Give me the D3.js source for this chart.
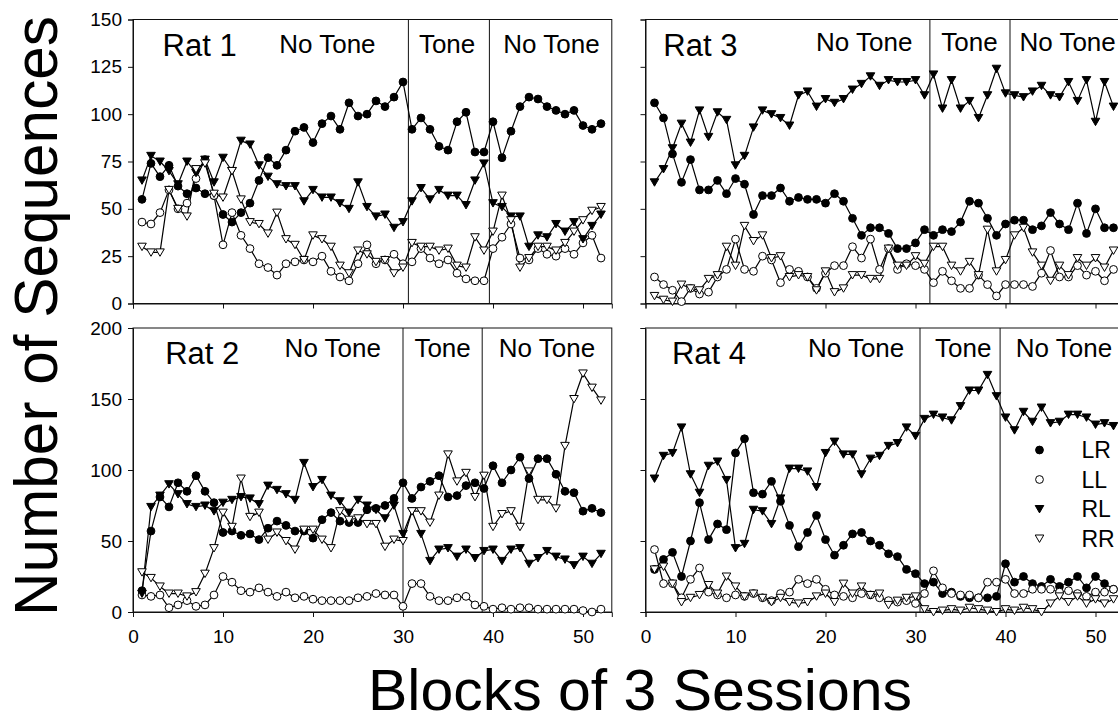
<!DOCTYPE html>
<html>
<head>
<meta charset="utf-8">
<script src="https://cdn.jsdelivr.net/npm/d3@7"></script>
<style>
body { margin: 0; background: #fff; }
svg { display: block; }
text { font-family: "Liberation Sans", Arial, sans-serif; fill: #000; }
</style>
</head>
<body>
<svg id="chart" width="1118" height="721"></svg>
<script>
// blocks of 3 sessions, 1..52
var blocks = d3.range(1, 53);
var seriesNames = ["LR", "LL", "RL", "RR"];
var phaseNames = ["No Tone", "Tone", "No Tone"];
var xTicks = [0, 10, 20, 30, 40, 50];
var yTicksTop = [0, 25, 50, 75, 100, 125, 150];
var yTicksBottom = [0, 50, 100, 150, 200];

// Rat 1
var rat1LR = [55,74,67,73,62,58,61,58,57,47, 43,48,53,65,77,73,81,91,93,85, 95,99,92,106,99,100,107,104,109,117, 92,98,92,83,81,96,101,80,80,96, 77,91,104,109,108,104,102,100,102,94, 92,95];
var rat1LL = [43,42,48,60,50,53,66,76,57,31, 48,36,29,21,19,15,21,22,23,22, 25,17,14,12,21,31,21,23,26,21, 22,29,24,21,23,16,13,12,12,29, 35,42,24,23,29,26,25,29,26,32, 36,24];
var rat1RL = [65,78,75,70,63,75,69,76,64,77, 70,86,84,73,67,63,62,62,54,60, 56,56,53,50,64,51,46,47,40,43, 54,61,55,60,57,57,52,65,74,53, 51,46,46,30,36,35,42,38,43,34, 41,47];
var rat1RR = [30,27,27,60,50,46,71,74,58,56, 70,55,43,42,37,48,34,31,23,36, 34,30,20,16,28,26,22,23,16,19, 32,30,30,28,29,20,19,35,28,38, 57,44,19,24,30,30,28,32,38,44, 49,51];
var rat1Cuts = [30.6, 39.6];

// Rat 2
var rat2LR = [15,57,81,74,91,85,96,85,77,56, 57,54,55,51,59,64,61,57,57,52, 65,70,64,63,63,72,73,75,80,91, 80,88,92,96,81,82,89,91,87,103, 91,100,109,94,108,108,97,85,84,71, 73,70];
var rat2LL = [12,11,12,3,5,8,4,5,12,25, 21,15,14,17,14,11,14,10,11,9, 8,8,8,8,10,11,13,12,12,4, 20,20,11,8,8,10,11,5,4,2, 3,2,3,3,2,2,2,2,2,1, 0,2];
var rat2RL = [13,74,82,90,83,76,74,75,71,77, 79,81,80,76,89,86,83,79,105,88, 93,82,78,70,79,75,72,66,75,55, 71,55,36,44,45,39,44,38,43,44, 36,44,45,34,38,43,39,37,33,39, 34,41];
var rat2RR = [28,24,18,13,13,11,14,27,45,70, 60,94,67,70,51,56,50,44,58,58, 51,45,71,65,66,62,62,46,51,50, 71,71,63,82,111,92,98,81,96,60, 69,71,60,99,79,79,73,117,150,168, 158,149];
var rat2Cuts = [30.0, 38.8];

// Rat 3
var rat3LR = [106,98,79,64,76,60,60,65,58,66, 63,47,57,57,61,54,56,55,55,53, 58,54,45,36,40,40,37,29,29,32, 39,36,39,38,43,54,53,45,36,42, 44,44,39,41,48,42,39,53,37,50, 40,40];
var rat3LL = [14,10,7,1,8,5,6,14,18,34, 18,17,25,23,11,18,17,14,8,16, 20,20,30,24,34,18,29,18,21,20, 18,11,17,12,8,8,15,10,4,10, 10,10,9,16,28,14,14,20,15,17, 12,18];
var rat3RL = [64,71,82,95,85,102,88,101,97,73, 78,93,102,100,98,94,110,112,104,108, 106,108,113,116,120,115,118,117,117,118, 110,121,103,118,103,107,98,110,124,111, 110,109,112,115,110,109,117,107,118,96, 117,104];
var rat3RR = [4,2,1,10,8,7,13,15,30,20, 41,33,36,24,25,14,15,14,7,17, 6,8,15,15,13,13,29,20,20,25, 21,30,30,20,17,22,15,39,17,23, 36,40,27,20,12,20,15,24,20,24, 19,28];
var rat3Cuts = [31.6, 40.5];

// Rat 4
var rat4LR = [30,37,42,25,50,77,51,62,58,112, 122,84,83,92,78,61,46,56,68,51, 40,47,55,56,50,47,41,39,30,27, 20,21,13,14,11,10,10,10,11,34, 21,25,20,18,23,18,21,25,17,25, 20,16];
var rat4LL = [44,20,20,10,23,31,14,12,10,12, 11,13,10,8,13,14,23,20,23,16, 12,11,10,13,12,10,8,7,8,6, 13,29,17,13,12,12,10,21,21,23, 13,13,16,16,16,14,15,13,11,14, 14,16];
var rat4RL = [94,110,112,130,97,84,103,106,93,45, 48,72,71,62,80,101,101,99,88,112, 120,111,111,97,108,110,117,119,130,124, 136,139,137,135,145,156,156,167,152,137, 128,141,134,144,133,134,139,139,137,132, 133,131];
var rat4RR = [30,32,20,7,10,12,19,13,25,18, 11,13,10,7,10,7,6,7,11,13, 7,20,13,18,12,13,5,8,10,11, 2,0,1,2,1,3,2,1,0,2, 1,3,2,0,6,11,7,11,6,9, 6,9];
var rat4Cuts = [30.5, 39.4];

// layout of the four panels
var panels = [
  {name: "Rat 1", series: [rat1LR, rat1LL, rat1RL, rat1RR], cuts: rat1Cuts, left: 133, top: 19.5, bottom: 303.5, yMax: 150, yTicks: yTicksTop,
   yLabels: true, xLabels: false, nameX: 7.4, phaseX: [21.6, 34.9, 46.5], nameDy: 36.5, phaseDy: 33.5},
  {name: "Rat 2", series: [rat2LR, rat2LL, rat2RL, rat2RR], cuts: rat2Cuts, left: 133, top: 328, bottom: 612, yMax: 200, yTicks: yTicksBottom,
   yLabels: true, xLabels: true, nameX: 7.7, phaseX: [22.2, 34.4, 46.0], nameDy: 36, phaseDy: 29},
  {name: "Rat 3", series: [rat3LR, rat3LL, rat3RL, rat3RR], cuts: rat3Cuts, left: 645.5, top: 19.5, bottom: 303.5, yMax: 150, yTicks: yTicksTop,
   yLabels: false, xLabels: false, nameX: 6.1, phaseX: [24.3, 36.0, 46.9], nameDy: 36.5, phaseDy: 31.5},
  {name: "Rat 4", series: [rat4LR, rat4LL, rat4RL, rat4RR], cuts: rat4Cuts, left: 645.5, top: 328, bottom: 612, yMax: 200, yTicks: yTicksBottom,
   yLabels: false, xLabels: true, nameX: 7.05, phaseX: [23.4, 35.3, 46.5], nameDy: 36, phaseDy: 29, legend: true}
];

var svg = d3.select("#chart");
svg.append("rect").attr("width", 1118).attr("height", 721).attr("fill", "#fff");

var triDown = "M-4.3,-3.5L4.3,-3.5L0,3.9Z";

function drawMarker(sel, name) {
  if (name === "LR" || name === "LL") {
    sel.append("circle").attr("r", 3.9)
      .attr("fill", name === "LR" ? "#000" : "#fff")
      .attr("stroke", "#000").attr("stroke-width", 1);
  } else {
    sel.append("path").attr("d", triDown)
      .attr("fill", name === "RL" ? "#000" : "#fff")
      .attr("stroke", "#000").attr("stroke-width", 1);
  }
}

panels.forEach(function(p) {
  var x = d3.scaleLinear().domain([0, 53.2]).range([p.left, p.left + 478.8]);
  var y = d3.scaleLinear().domain([0, p.yMax]).range([p.bottom, p.top]);
  var g = svg.append("g");

  // frame
  g.append("rect")
    .attr("x", x(0)).attr("y", y(p.yMax))
    .attr("width", x(53.2) - x(0)).attr("height", y(0) - y(p.yMax))
    .attr("fill", "none").attr("stroke", "#111").attr("stroke-width", 1);

  var yAxis = d3.axisLeft(y).tickValues(p.yTicks).tickSize(5).tickPadding(6);
  if (!p.yLabels) yAxis.tickFormat("");
  var gy = g.append("g").attr("transform", "translate(" + x(0) + ",0)").call(yAxis);

  var xAxis = d3.axisBottom(x).tickValues(xTicks).tickSize(5).tickPadding(13);
  if (!p.xLabels) xAxis.tickFormat("");
  var gx = g.append("g").attr("transform", "translate(0," + y(0) + ")").call(xAxis);

  [gx, gy].forEach(function(a) {
    a.select(".domain").attr("stroke", "#111");
    a.selectAll(".tick line").attr("stroke", "#111");
    a.selectAll("text").attr("font-size", 19).attr("font-family", "Liberation Sans, Arial, sans-serif");
  });

  // phase dividers
  g.selectAll(".cut").data(p.cuts).enter().append("line")
    .attr("x1", function(d) { return x(d); }).attr("x2", function(d) { return x(d); })
    .attr("y1", y(p.yMax)).attr("y2", y(0))
    .attr("stroke", "#111").attr("stroke-width", 1);

  // labels
  g.append("text").attr("x", x(p.nameX)).attr("y", p.top + p.nameDy)
    .attr("text-anchor", "middle").attr("font-size", 31).text(p.name);
  g.selectAll(".phase").data(phaseNames).enter().append("text")
    .attr("x", function(d, i) { return x(p.phaseX[i]); })
    .attr("y", p.top + p.phaseDy)
    .attr("text-anchor", "middle").attr("font-size", 26)
    .text(function(d) { return d; });

  // lines
  var line = d3.line().x(function(d, i) { return x(blocks[i]); }).y(function(d) { return y(d); });
  p.series.forEach(function(s) {
    g.append("path").datum(s).attr("d", line)
      .attr("fill", "none").attr("stroke", "#000").attr("stroke-width", 1.2);
  });

  // markers
  p.series.forEach(function(s, k) {
    g.selectAll(".m" + k).data(s).enter().append("g")
      .attr("transform", function(d, i) { return "translate(" + x(blocks[i]) + "," + y(d) + ")"; })
      .each(function() { drawMarker(d3.select(this), seriesNames[k]); });
  });

  if (p.legend) {
    var lg = g.append("g");
    seriesNames.forEach(function(n, i) {
      var row = lg.append("g").attr("transform", "translate(1039.5," + (450 + i * 29.5) + ")");
      drawMarker(row, n);
      row.append("text").attr("x", 42).attr("y", 8).attr("font-size", 23).text(n);
    });
  }
});

// axis titles
svg.append("text")
  .attr("transform", "translate(57,316) rotate(-90)")
  .attr("text-anchor", "middle").attr("font-size", 61)
  .attr("textLength", 600).attr("lengthAdjust", "spacingAndGlyphs")
  .text("Number of Sequences");

svg.append("text")
  .attr("x", 640).attr("y", 710)
  .attr("text-anchor", "middle").attr("font-size", 58)
  .attr("textLength", 544).attr("lengthAdjust", "spacingAndGlyphs")
  .text("Blocks of 3 Sessions");
</script>
</body>
</html>
